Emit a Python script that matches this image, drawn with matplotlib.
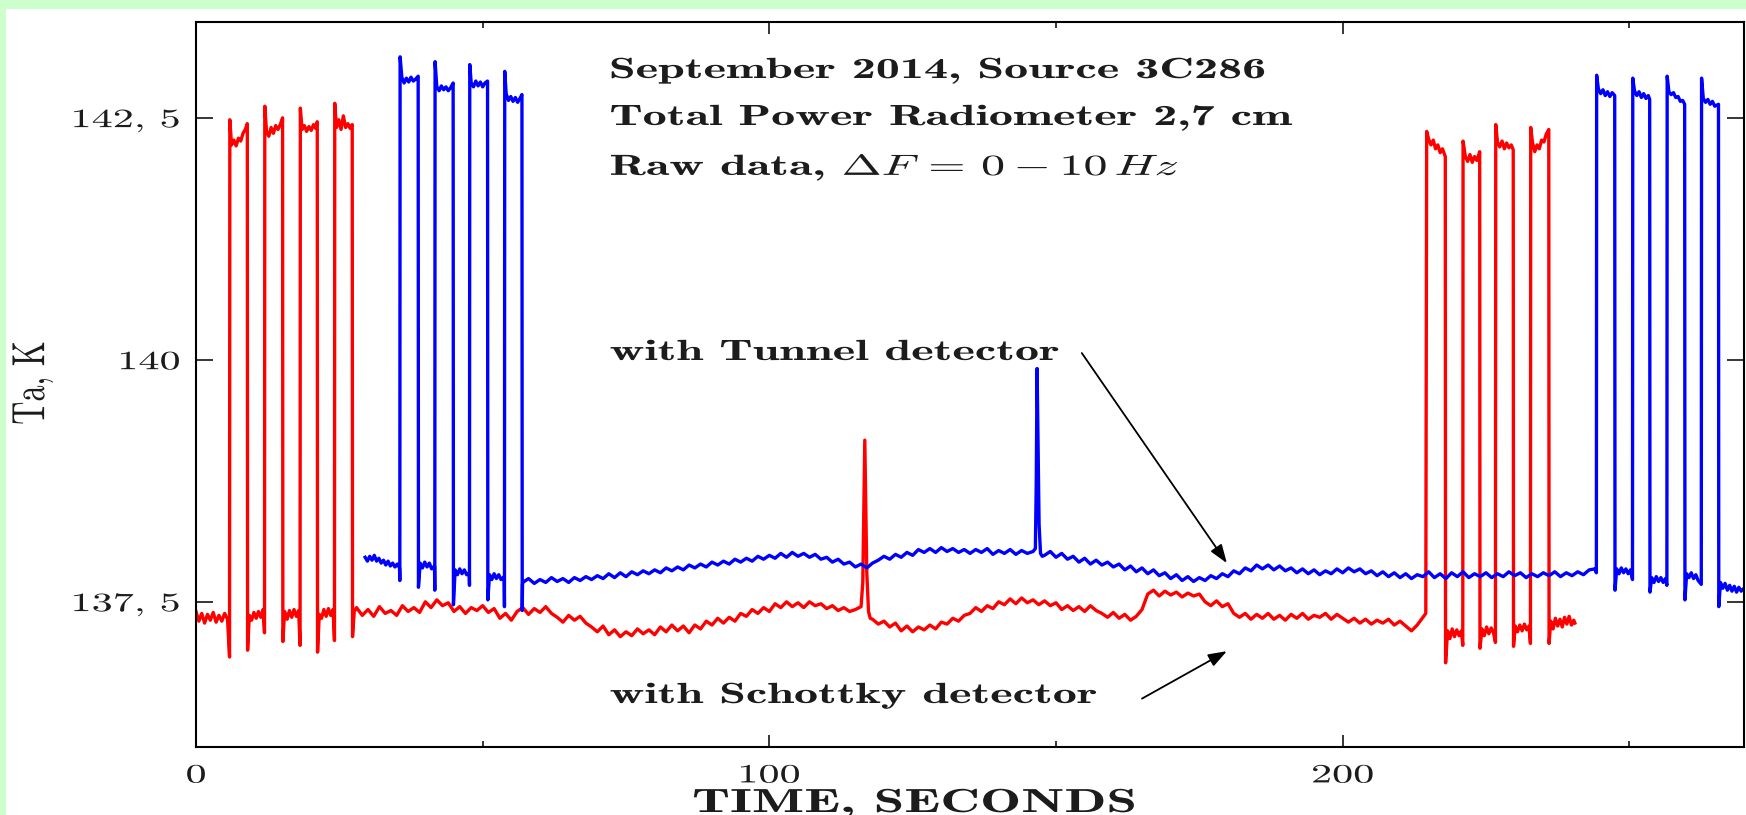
import numpy as np
import matplotlib
matplotlib.use("Agg")
import matplotlib.pyplot as plt
from matplotlib.patheffects import AbstractPathEffect
from matplotlib.transforms import Affine2D
from matplotlib.ticker import FixedLocator
from matplotlib.patches import Rectangle

plt.rcParams["mathtext.fontset"] = "cm"
plt.rcParams["axes.unicode_minus"] = False

# ---------------------------------------------------------------- data ----
# Schottky detector (red): calibration pulses at the start, seconds / K
red_head_t = [0.0, 0.5, 1.0, 1.5, 2.0, 2.5, 3.0, 3.5, 4.0, 4.5, 5.0, 5.5,
              5.85, 5.9, 6.2, 6.6, 7.0, 7.4, 7.8, 8.2, 8.6, 8.95,
              9.0, 9.3, 9.7, 10.1, 10.5, 10.9, 11.3, 11.7,
              11.95, 12.0, 12.3, 12.7, 13.1, 13.5, 13.9, 14.3, 14.7, 15.1,
              15.15, 15.45, 15.9, 16.3, 16.7, 17.1, 17.5, 17.9,
              18.15, 18.2, 18.5, 18.9, 19.3, 19.7, 20.1, 20.5, 20.9, 21.15,
              21.2, 21.5, 21.9, 22.3, 22.7, 23.1, 23.5, 23.9,
              24.15, 24.2, 24.5, 24.9, 25.3, 25.7, 26.1, 26.5, 26.9, 27.25,
              27.3, 27.6]
red_head_ta = [137.40, 137.30, 137.38, 137.28, 137.37, 137.31, 137.39, 137.29, 137.36, 137.30, 137.38, 137.32,
               136.93, 142.48, 142.22, 142.27, 142.21, 142.29, 142.26, 142.34, 142.38, 142.44,
               137.00, 137.36, 137.31, 137.39, 137.33, 137.40, 137.34, 137.42,
               137.18, 142.62, 142.36, 142.31, 142.40, 142.34, 142.42, 142.38, 142.43, 142.50,
               137.09, 137.40, 137.32, 137.41, 137.34, 137.42, 137.35, 137.41,
               137.05, 142.60, 142.38, 142.42, 142.36, 142.41, 142.37, 142.43, 142.39, 142.46,
               136.98, 137.37, 137.33, 137.42, 137.35, 137.43, 137.36, 137.42,
               137.10, 142.65, 142.40, 142.48, 142.38, 142.52, 142.40, 142.44, 142.39, 142.43,
               137.14, 137.40]
# one reading per second, t = 28 ... 115
red_mid_ta = [137.44, 137.36, 137.42, 137.35, 137.45, 137.38, 137.41, 137.36, 137.46, 137.40,
              137.44, 137.39, 137.50, 137.44, 137.52, 137.46, 137.49, 137.40, 137.45, 137.38,
              137.44, 137.41, 137.46, 137.39, 137.43, 137.33, 137.38, 137.31, 137.40, 137.44,
              137.37, 137.43, 137.39, 137.45, 137.38, 137.34, 137.29, 137.36, 137.31, 137.35,
              137.28, 137.24, 137.19, 137.25, 137.16, 137.21, 137.14, 137.19, 137.15, 137.22,
              137.17, 137.21, 137.16, 137.24, 137.19, 137.26, 137.20, 137.25, 137.18, 137.26,
              137.22, 137.30, 137.26, 137.33, 137.28, 137.34, 137.30, 137.38, 137.35, 137.42,
              137.38, 137.44, 137.40, 137.48, 137.44, 137.50, 137.45, 137.49, 137.44, 137.50,
              137.46, 137.48, 137.43, 137.46, 137.41, 137.44, 137.40, 137.42]
# source transit seen by the Schottky channel
red_spike_t = [116.0, 116.3, 116.5, 116.65, 116.8, 117.0, 117.3, 117.6]
red_spike_ta = [137.45, 137.70, 138.50, 139.17, 138.60, 137.80, 137.40, 137.33]
# one reading per second, t = 118 ... 214
red_mid2_ta = [137.32, 137.27, 137.30, 137.24, 137.28, 137.20, 137.25, 137.19, 137.24, 137.21,
               137.26, 137.22, 137.29, 137.27, 137.33, 137.30, 137.36, 137.38, 137.44, 137.40,
               137.46, 137.43, 137.50, 137.47, 137.53, 137.48, 137.54, 137.49, 137.52, 137.47,
               137.51, 137.46, 137.49, 137.42, 137.46, 137.41, 137.45, 137.40, 137.46, 137.41,
               137.38, 137.34, 137.39, 137.33, 137.37, 137.31, 137.35, 137.42, 137.58, 137.62,
               137.56, 137.61, 137.57, 137.60, 137.55, 137.59, 137.56, 137.58, 137.50, 137.46,
               137.51, 137.45, 137.48, 137.38, 137.34, 137.38, 137.32, 137.37, 137.33, 137.38,
               137.32, 137.36, 137.31, 137.37, 137.33, 137.38, 137.32, 137.36, 137.34, 137.38,
               137.32, 137.37, 137.33, 137.29, 137.33, 137.28, 137.32, 137.27, 137.31, 137.28,
               137.32, 137.26, 137.30, 137.25, 137.20, 137.26, 137.34]
# calibration pulses at the end
red_tail_t = [214.5, 214.65, 215.0, 215.4, 215.8, 216.2, 216.6, 217.0, 217.4, 217.9,
              217.95, 218.3, 218.7, 219.1, 219.5, 219.9, 220.3, 220.7, 220.95,
              221.0, 221.4, 221.8, 222.2, 222.6, 223.0, 223.4, 223.9,
              223.95, 224.3, 224.7, 225.1, 225.5, 225.9, 226.3, 226.65,
              226.7, 227.0, 227.4, 227.8, 228.2, 228.6, 229.0, 229.4, 229.75,
              229.8, 230.1, 230.5, 230.9, 231.3, 231.7, 232.1, 232.5, 232.75,
              232.8, 233.1, 233.5, 233.9, 234.3, 234.7, 235.1, 235.5, 235.95,
              236.0, 236.3, 236.7, 237.1, 237.5, 237.9, 238.3, 238.7, 239.1, 239.5, 239.9, 240.3, 240.5]
red_tail_ta = [137.38, 142.36, 142.28, 142.22, 142.27, 142.18, 142.22, 142.14, 142.18, 142.10,
               136.87, 137.20, 137.12, 137.22, 137.14, 137.21, 137.15, 137.20, 137.05,
               142.26, 142.10, 142.05, 142.12, 142.04, 142.10, 142.06, 142.15,
               137.02, 137.22, 137.15, 137.24, 137.17, 137.23, 137.18, 137.08,
               142.43, 142.25, 142.20, 142.26, 142.18, 142.24, 142.19, 142.22, 142.17,
               137.04, 137.25, 137.19, 137.26, 137.20, 137.27, 137.21, 137.25, 137.07,
               142.40, 142.25, 142.15, 142.22, 142.18, 142.27, 142.25, 142.33, 142.38,
               137.07, 137.30, 137.22, 137.33, 137.25, 137.32, 137.24, 137.34, 137.27, 137.35, 137.26, 137.31, 137.28]

# Tunnel detector (blue): calibration pulses at the start
blue_head_t = [29.5, 29.9, 30.3, 30.7, 31.1, 31.5, 31.9, 32.3, 32.7, 33.1, 33.5, 33.9, 34.3, 34.7, 35.1, 35.5,
               35.55, 35.6, 35.9, 36.3, 36.7, 37.1, 37.5, 37.9, 38.3, 38.75,
               38.8, 39.1, 39.5, 39.9, 40.3, 40.7, 41.1, 41.6,
               41.65, 41.7, 42.0, 42.4, 42.8, 43.2, 43.6, 44.0, 44.4, 44.85,
               44.9, 45.2, 45.6, 46.0, 46.4, 46.8, 47.2, 47.65,
               47.7, 47.75, 48.0, 48.4, 48.8, 49.2, 49.6, 50.0, 50.4, 50.85,
               50.9, 51.2, 51.6, 52.0, 52.4, 52.8, 53.2, 53.75,
               53.8, 53.85, 54.1, 54.5, 54.9, 55.3, 55.7, 56.1, 56.5, 56.85,
               56.9, 56.95]
blue_head_ta = [137.96, 137.92, 137.97, 137.93, 137.98, 137.92, 137.95, 137.90, 137.93, 137.88, 137.92, 137.87, 137.90, 137.86, 137.89, 137.85,
                137.72, 143.13, 142.92, 142.86, 142.91, 142.87, 142.92, 142.88, 142.90, 142.93,
                137.65, 137.90, 137.85, 137.91, 137.86, 137.90, 137.84, 137.87,
                137.62, 143.08, 142.82, 142.78, 142.83, 142.79, 142.82, 142.78, 142.81, 142.86,
                137.47, 137.83, 137.78, 137.84, 137.79, 137.83, 137.78, 137.80,
                137.67, 143.05, 142.86, 142.82, 142.88, 142.83, 142.87, 142.82, 142.86, 142.88,
                137.52, 137.78, 137.73, 137.79, 137.74, 137.78, 137.73, 137.76,
                137.45, 142.98, 142.75, 142.68, 142.72, 142.67, 142.71, 142.66, 142.70, 142.74,
                137.41, 137.68]
# one reading per second, t = 57 ... 146
blue_mid_ta = [137.70, 137.74, 137.69, 137.73, 137.70, 137.75, 137.71, 137.74, 137.70, 137.75,
               137.72, 137.76, 137.73, 137.77, 137.74, 137.79, 137.75, 137.80, 137.76, 137.81,
               137.78, 137.82, 137.79, 137.83, 137.80, 137.85, 137.82, 137.86, 137.83, 137.88,
               137.85, 137.89, 137.86, 137.91, 137.88, 137.92, 137.89, 137.94, 137.91, 137.95,
               137.92, 137.97, 137.94, 137.98, 137.95, 138.00, 137.96, 138.01, 137.97, 138.00,
               137.96, 137.99, 137.94, 137.96, 137.91, 137.94, 137.89, 137.91, 137.86, 137.89,
               137.85, 137.90, 137.93, 137.97, 137.94, 137.99, 137.96, 138.01, 137.98, 138.04,
               138.01, 138.05, 138.01, 138.06, 138.02, 138.05, 138.01, 138.04, 138.00, 138.04,
               138.01, 138.05, 137.99, 138.03, 138.00, 138.04, 137.99, 138.03, 138.00, 138.02]
# source transit seen by the Tunnel channel
blue_spike_t = [146.4, 146.55, 146.7, 146.85, 147.05, 147.3, 147.6]
blue_spike_ta = [138.05, 138.70, 139.91, 139.20, 138.30, 138.00, 137.97]
# one reading per second, t = 148 ... 244
blue_mid2_ta = [137.98, 138.02, 137.96, 138.00, 137.94, 137.97, 137.91, 137.95, 137.89, 137.93,
                137.88, 137.91, 137.86, 137.89, 137.83, 137.87, 137.81, 137.85, 137.79, 137.83,
                137.77, 137.80, 137.74, 137.78, 137.72, 137.76, 137.71, 137.75, 137.72, 137.77,
                137.74, 137.79, 137.76, 137.82, 137.79, 137.85, 137.82, 137.88, 137.84, 137.88,
                137.83, 137.87, 137.82, 137.85, 137.80, 137.84, 137.79, 137.83, 137.78, 137.82,
                137.79, 137.84, 137.80, 137.85, 137.81, 137.84, 137.79, 137.82, 137.77, 137.81,
                137.76, 137.80, 137.75, 137.79, 137.74, 137.78, 137.76, 137.81, 137.75, 137.79,
                137.74, 137.80, 137.76, 137.81, 137.75, 137.79, 137.76, 137.80, 137.75, 137.79,
                137.76, 137.81, 137.77, 137.80, 137.75, 137.79, 137.76, 137.80, 137.77, 137.81,
                137.76, 137.80, 137.77, 137.81, 137.78, 137.83, 137.84]
# calibration pulses at the end
blue_tail_t = [244.25, 244.3, 244.6, 245.0, 245.4, 245.8, 246.2, 246.6, 247.0, 247.45,
               247.5, 247.8, 248.2, 248.6, 249.0, 249.4, 249.8, 250.2, 250.55,
               250.6, 250.9, 251.3, 251.7, 252.1, 252.5, 252.9, 253.3, 253.55,
               253.6, 253.9, 254.3, 254.7, 255.1, 255.5, 255.9, 256.3, 256.55,
               256.6, 256.9, 257.3, 257.7, 258.1, 258.5, 258.9, 259.3, 259.65,
               259.7, 260.0, 260.4, 260.8, 261.2, 261.6, 262.0, 262.55,
               262.6, 262.9, 263.3, 263.7, 264.1, 264.5, 264.9, 265.55,
               265.6, 265.9, 266.3, 266.7, 267.1, 267.5, 267.9, 268.3, 268.7, 269.1, 269.5, 270.0]
blue_tail_ta = [137.80, 142.94, 142.80, 142.75, 142.79, 142.73, 142.77, 142.72, 142.76, 142.73,
                137.62, 137.84, 137.79, 137.85, 137.80, 137.84, 137.79, 137.83, 137.73,
                142.91, 142.78, 142.73, 142.77, 142.71, 142.75, 142.70, 142.73, 142.69,
                137.60, 137.75, 137.70, 137.76, 137.71, 137.75, 137.70, 137.74, 137.67,
                142.93, 142.77, 142.74, 142.76, 142.71, 142.72, 142.67, 142.68, 142.64,
                137.52, 137.79, 137.75, 137.80, 137.74, 137.78, 137.72, 137.68,
                142.91, 142.70, 142.66, 142.69, 142.64, 142.67, 142.62, 142.64,
                137.45, 137.70, 137.64, 137.69, 137.62, 137.67, 137.61, 137.66, 137.60, 137.65, 137.61, 137.64]

x_major = [0, 100, 200]
x_major_labels = ["0", "100", "200"]
x_minor = [50, 150, 250]
y_major = [137.5, 140.0, 142.5]
y_major_labels = ["137, 5", "140", "142, 5"]

title_lines = ["September 2014, Source 3C286",
               "Total Power Radiometer 2,7 cm",
               r"Raw data, $\Delta F\,=\,0 - 10\,Hz$"]
tunnel_label = "with Tunnel detector"
schottky_label = "with Schottky detector"
x_label = "TIME, SECONDS"
y_label = "Ta, K"

# assemble both traces (1-second readings between the pulse groups)
red_t = np.concatenate([red_head_t, np.arange(28, 116), red_spike_t,
                        np.arange(118, 215), red_tail_t])
red_ta = np.concatenate([red_head_ta, red_mid_ta, red_spike_ta,
                         red_mid2_ta, red_tail_ta])
blue_t = np.concatenate([blue_head_t, np.arange(57, 147), blue_spike_t,
                         np.arange(148, 245), blue_tail_t])
blue_ta = np.concatenate([blue_head_ta, blue_mid_ta, blue_spike_ta,
                          blue_mid2_ta, blue_tail_ta])


# ------------------------------------------------------------- styling ----
class Widen(AbstractPathEffect):
    """Draw glyphs widened along one axis of the text frame about an anchor."""

    def __init__(self, factor, axis="x", anchor="left"):
        super().__init__()
        self.factor = factor
        self.axis = axis
        self.anchor = anchor

    def draw_path(self, renderer, gc, tpath, affine, rgbFace=None):
        ext = tpath.get_extents()
        if self.axis == "x":
            ref = {"left": ext.x0, "center": 0.5 * (ext.x0 + ext.x1),
                   "right": ext.x1}[self.anchor]
            pre = Affine2D().translate(-ref, 0).scale(self.factor, 1).translate(ref, 0)
        else:
            ref = 0.5 * (ext.y0 + ext.y1)
            pre = Affine2D().translate(0, -ref).scale(1, self.factor).translate(0, ref)
        renderer.draw_path(gc, tpath, pre + affine, rgbFace)


W = 1746
H = 815
STRETCH_TICK = 1.6
STRETCH_BOLD = 1.65
TXT = "#1c1c1c"


def fx(px):
    return px / W


def fy(py):
    return 1 - py / H


fig = plt.figure(figsize=(W / 100, H / 100), dpi=100, facecolor="#ccffcc")
fig.add_artist(Rectangle((fx(6), 0), 1, fy(9), transform=fig.transFigure,
                         facecolor="white", edgecolor="none", zorder=-10))

ax = fig.add_axes([fx(196), fy(747), fx(1744) - fx(196), fy(22) - fy(747)])
ax.plot(red_t, red_ta, color="#ff0000", lw=2.4)
ax.plot(blue_t, blue_ta, color="#0000ff", lw=2.4)

ax.set_xlim(0, 270)
ax.set_ylim(136.0, 143.49)

ax.xaxis.set_major_locator(FixedLocator(x_major))
ax.xaxis.set_minor_locator(FixedLocator(x_minor))
ax.set_xticklabels(x_major_labels)
ax.yaxis.set_major_locator(FixedLocator(y_major))
ax.set_yticklabels(y_major_labels)
ax.yaxis.set_minor_locator(FixedLocator([]))

ax.tick_params(which="both", direction="in", top=True, right=True,
               color="black", width=1.1)
ax.tick_params(axis="x", which="major", length=8.5, pad=12)
ax.tick_params(axis="x", which="minor", length=4.5)
ax.tick_params(axis="y", which="major", length=12, pad=11.5)
for sp in ax.spines.values():
    sp.set_linewidth(1.5)

for lab in ax.get_xticklabels():
    lab.set_fontfamily("cmr10")
    lab.set_fontsize(19)
    lab.set_color(TXT)
    lab.set_path_effects([Widen(STRETCH_TICK, "x", "center")])
for lab in ax.get_yticklabels():
    lab.set_fontfamily("cmr10")
    lab.set_fontsize(19)
    lab.set_color(TXT)
    lab.set_path_effects([Widen(STRETCH_TICK, "x", "right")])

for line, base in zip(title_lines, [78, 125, 175]):
    fig.text(fx(610), fy(base), line, ha="left", va="baseline",
             fontfamily="cmb10", fontsize=21, color=TXT,
             path_effects=[Widen(STRETCH_BOLD, "x", "left")])

fig.text(fx(610), fy(360), tunnel_label, ha="left", va="baseline",
         fontfamily="cmb10", fontsize=21, color=TXT,
         path_effects=[Widen(STRETCH_BOLD, "x", "left")])
fig.text(fx(610), fy(703), schottky_label, ha="left", va="baseline",
         fontfamily="cmb10", fontsize=21, color=TXT,
         path_effects=[Widen(STRETCH_BOLD, "x", "left")])

arrow = dict(arrowstyle="-|>,head_length=0.7,head_width=0.25", color="black",
             lw=1.3, mutation_scale=16, shrinkA=0, shrinkB=0)
ax.annotate("", xy=(179.8, 137.90), xytext=(154.5, 140.07), arrowprops=arrow)
ax.annotate("", xy=(179.8, 136.99), xytext=(165.0, 136.50), arrowprops=arrow)

fig.text(fx(914), fy(812), x_label, ha="center", va="baseline",
         fontfamily="cmb10", fontsize=24, color=TXT,
         path_effects=[Widen(STRETCH_BOLD, "x", "center")])
fig.text(fx(33), fy(383), y_label, rotation=90, ha="center", va="center",
         fontfamily="cmr10", fontsize=23, color=TXT,
         path_effects=[Widen(1.45, "y", "center")])

fig.savefig("out.png", dpi=100, facecolor=fig.get_facecolor())
